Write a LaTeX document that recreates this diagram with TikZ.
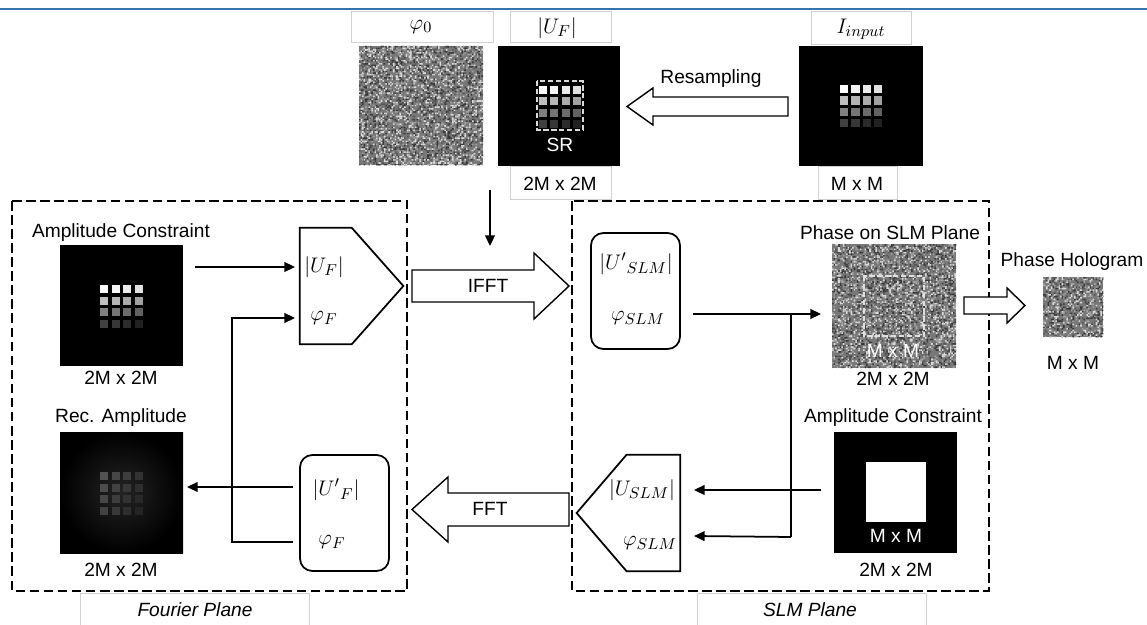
\documentclass[tikz,border=0pt]{standalone}
\usepackage{fontspec}
\setmainfont{Liberation Sans}
\usetikzlibrary{arrows.meta,calc,fit}
\definecolor{topblue}{RGB}{55,115,175}
\newcommand\noiselayer[7]{% x0 y0 nx ny cell color chunks
  \foreach \q in {1,...,#7}{%
    \fill[#6] foreach \k in {1,...,200}{ ({#1+#5*floor(rnd*#3)},{#2+#5*floor(rnd*#4)}) rectangle ++(#5,#5) };%
  }}
\newcommand\noisefill[6]{% x0 y0 nx ny cell chunks
  \fill[white!47!black] (#1,#2) rectangle ++({#3*#5},{#4*#5});
  \noiselayer{#1}{#2}{#3}{#4}{#5}{white!33!black}{#6}
  \noiselayer{#1}{#2}{#3}{#4}{#5}{white!64!black}{#6}
  \noiselayer{#1}{#2}{#3}{#4}{#5}{white!22!black}{#6}
  \noiselayer{#1}{#2}{#3}{#4}{#5}{white!85!black}{#6}
}
\newcommand\sqgrid[6]{% x0 y0 pitch size base step
  \foreach \r in {0,...,3}{%
    \foreach \c in {0,...,3}{%
      \pgfmathtruncatemacro\b{#5-#6*\r-4*\c}%
      \fill[white!\b!black] ({#1+\c*#3},{#2+\r*#3}) rectangle ++(#4,#4);%
    }}}
\begin{document}
\begin{tikzpicture}[x=0.02cm,y=-0.02cm,
  every node/.style={font=\fontsize{10.9pt}{13pt}\selectfont, inner sep=0pt},
  conn/.style={line width=1pt, -{Triangle[length=6pt,width=5.5pt]}},
  wire/.style={line width=1pt},
  plane/.style={draw, line width=0.9pt, dash pattern=on 5.5pt off 2.5pt},
  lblbox/.style={draw=black!18, line width=0.5pt},
  hollow/.style={draw, line width=0.8pt, fill=white},
  rbox/.style={draw, line width=1pt, rounded corners=7pt},
  shapeline/.style={draw, line width=1pt, line join=miter},
  img/.style={inner sep=0pt},
  wtxt/.style={text=white},
  mth/.style={font=\fontsize{12.8pt}{14pt}\selectfont}]
\useasboundingbox (0,0) rectangle (1147,625);
\pgfmathsetseed{7}

% top rule
\draw[topblue, line width=1.2pt] (0,9) -- (1147,9);

% thin label boxes
\draw[lblbox] (351,11) rectangle (493,42);
\draw[lblbox] (510,11) rectangle (611,42);
\draw[lblbox] (811,11) rectangle (911,44);
\draw[lblbox] (510,166) rectangle (611,199);
\draw[lblbox] (818,166) rectangle (897,199);
\draw[lblbox] (80,593) rectangle (309,627);
\draw[lblbox] (697,593) rectangle (926,627);

% top row images
\noisefill{359}{46}{80}{77}{1.55}{5}
\node[img, fit={(359,46)(483,166)}] (phi0img) {};
\node[mth] (phi0lbl) at (421,27) {$\varphi_0$};

\fill[black] (498,46) rectangle (620,166);
\node[img, fit={(498,46)(620,166)}] (ufimg) {};
\sqgrid{539}{86}{11.3}{8}{100}{25}
\draw[white!85!black, line width=0.9pt, dash pattern=on 3pt off 1.5pt] (537,81) rectangle (583,130);
\node[wtxt] (sr) at (560,145) {SR};
\node[mth] (uflbl) at (557,28) {$|U_F|$};
\node (uf2m) at (560,184) {2M x 2M};

\fill[black] (799,46) rectangle (923,166);
\node[img, fit={(799,46)(923,166)}] (inimg) {};
\sqgrid{840}{85}{11.3}{8.3}{100}{25}
\node[mth] (inlbl) at (861,29) {$I_{input}$};
\node (inmm) at (857,184) {M x M};

% resampling arrow
\draw[hollow] (788,97) -- (653,97) -- (653,88) -- (627,106.5) -- (653,125) -- (653,116) -- (788,116) -- cycle;
\node (resamp) at (711,79) {Resampling};

% down arrow
\coordinate (dtop) at (490,190);
\coordinate (dbot) at (490,246);
\draw[conn] (dtop) -- (dbot);

% plane frames
\draw[plane] (12,201) rectangle (407,591);
\draw[plane] (572,201) rectangle (989,591);
\node[font=\fontsize{10.9pt}{13pt}\selectfont\itshape] (fplane) at (195,610) {Fourier Plane};
\node[font=\fontsize{10.9pt}{13pt}\selectfont\itshape] (splane) at (810,610) {SLM Plane};

% Fourier plane: amplitude constraint
\node (ampLlbl) at (121,233) {Amplitude Constraint};
\fill[black] (60,245) rectangle (183,366);
\node[img, fit={(60,245)(183,366)}] (ampLimg) {};
\sqgrid{100}{285}{11.6}{8}{100}{25}
\node (ampL2m) at (121,378) {2M x 2M};

% pentagon F
\node[img, fit={(300,228)(403,344)}] (pf) {};
\draw[shapeline] (pf.north west) -- ($(pf.north west)+(52,0)$) -- (pf.east) -- ($(pf.south west)+(52,0)$) -- (pf.south west) -- cycle;
\node[mth] (pfU) at (324,267) {$|U_F|$};
\node[mth] (pfphi) at (324,318) {$\varphi_F$};

\coordinate (a1s) at (195,267);
\coordinate (a1e) at (295,267);
\draw[conn] (a1s) -- (a1e);

% IFFT arrow
\draw[hollow] (412,270) -- (534,270) -- (534,253) -- (569,286) -- (534,319) -- (534,302) -- (412,302) -- cycle;
\node (ifft) at (488,286) {IFFT};

% U'_SLM box
\node[rbox, fit={(591,233)(680,349)}] (uslmp) {};
\node[mth] (uslmpU) at (636,264) {$|{U'}_{SLM}|$};
\node[mth] (uslmpphi) at (638,318) {$\varphi_{SLM}$};

\coordinate (b1s) at (693,314);
\coordinate (b1e) at (821,314);
\coordinate (bj) at (791,314);
\coordinate (bjb) at (791,537);
\draw[conn] (b1s) -- (b1e);
\draw[wire] (bj) -- (bjb);

% phase on SLM plane
\node (phslbl) at (890,233) {Phase on SLM Plane};
\noisefill{832}{244}{80}{80}{1.55}{5}
\node[img, fit={(832,244)(956,368)}] (phsimg) {};
\draw[white!88!black, line width=0.9pt, dash pattern=on 3pt off 1.5pt] (864,276) rectangle (924,336);
\node[wtxt] (phsmm) at (893,351) {M x M};
\node (phs2m) at (893,379) {2M x 2M};

% arrow to hologram
\draw[hollow] (964,297) -- (1007,297) -- (1007,288) -- (1025,305.5) -- (1007,323) -- (1007,314) -- (964,314) -- cycle;
\node (hololbl) at (1072,262) {Phase Hologram};
\noisefill{1043}{277}{39}{39}{1.55}{1}
\node[img, fit={(1043,277)(1103,337)}] (holoimg) {};
\node (holomm) at (1073,363) {M x M};

% amplitude constraint right
\node (ampRlbl) at (893,418) {Amplitude Constraint};
\fill[black] (834,432) rectangle (957,553);
\node[img, fit={(834,432)(957,553)}] (ampRimg) {};
\fill[white] (866,462) rectangle (926,522);
\node[wtxt] (ampRmm) at (896,536) {M x M};
\node (ampR2m) at (896,570) {2M x 2M};

% pentagon SLM
\node[img, fit={(577,455)(680,571)}] (ps) {};
\draw[shapeline] (ps.west) -- ($(ps.north west)+(50,0)$) -- (ps.north east) -- (ps.south east) -- ($(ps.south west)+(50,0)$) -- cycle;
\node[mth] (psU) at (642,490) {$|U_{SLM}|$};
\node[mth] (psphi) at (650,543) {$\varphi_{SLM}$};

\coordinate (c1s) at (821,490);
\coordinate (c1e) at (694,490);
\coordinate (c2e) at (694,536);
\draw[conn] (c1s) -- (c1e);
\draw[conn] (bjb) -- (c2e);

% FFT arrow
\draw[hollow] (569,493) -- (448,493) -- (448,477) -- (412,509.5) -- (448,542) -- (448,526) -- (569,526) -- cycle;
\node (fft) at (490,509) {FFT};

% U'_F box
\node[rbox, fit={(300,455)(389,571)}] (ufp) {};
\node[mth] (ufpU) at (336,490) {$|{U'}_F|$};
\node[mth] (ufpphi) at (332,542) {$\varphi_F$};

% rec amplitude
\node (reclbl) at (121,418) {Rec. Amplitude};
\shade[inner color=black!86, outer color=black] (60,432) rectangle (183,553);
\node[img, fit={(60,432)(183,553)}] (recimg) {};
\sqgrid{100}{472}{11.6}{8}{32}{2}
\node (rec2m) at (121,570) {2M x 2M};

\coordinate (d1s) at (293,487);
\coordinate (d1e) at (187,487);
\draw[conn] (d1s) -- (d1e);

% feedback phase
\coordinate (e1) at (293,542);
\coordinate (e2) at (232,542);
\coordinate (e3) at (232,318);
\coordinate (e4) at (295,318);
\draw[conn] (e1) -- (e2) -- (e3) -- (e4);
\end{tikzpicture}
\end{document}
